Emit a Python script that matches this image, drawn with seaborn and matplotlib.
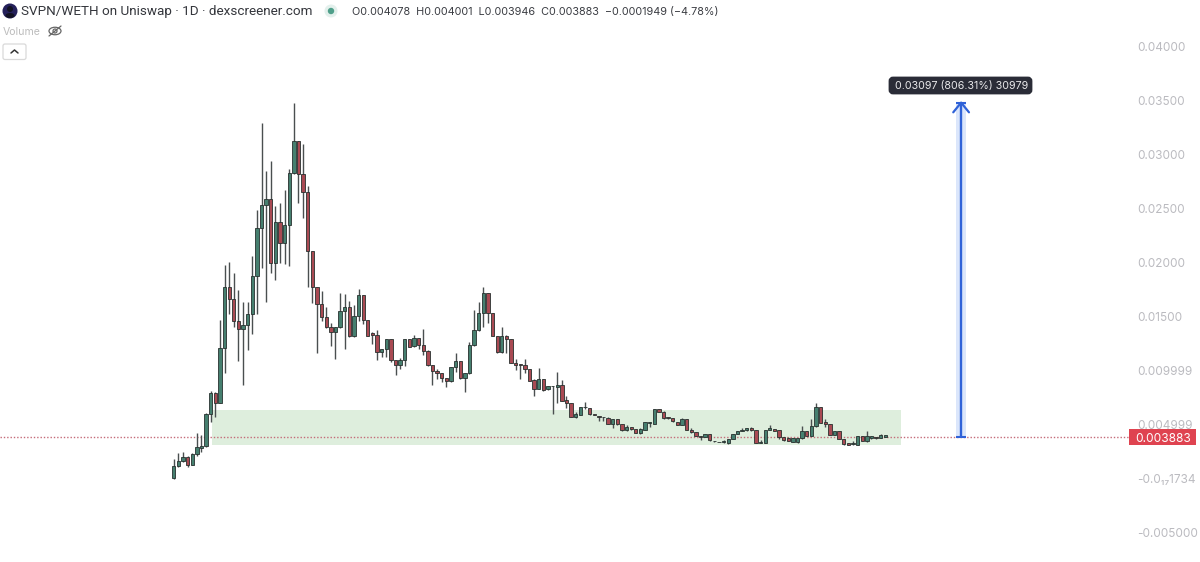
#!/usr/bin/python3
import pandas as pd
import matplotlib
matplotlib.use('Agg')
import matplotlib.pyplot as plt
from matplotlib.patches import Circle, Ellipse, FancyBboxPatch, Rectangle
import seaborn as sns

## daily candles, prices in thousandths of WETH
open_m = [0.06, 1.20, 1.67, 2.07, 1.33, 2.31, 2.90, 3.06, 6.02, 7.93, 7.07, 12.10, 17.81, 16.63, 14.63, 13.86, 14.23, 15.25, 18.82, 23.21,
          25.40, 25.95, 20.03, 23.76, 21.88, 23.52, 28.36, 31.32, 28.21, 26.57, 21.14, 17.74, 16.20, 15.03, 14.10, 13.58, 14.04, 15.55, 15.89, 13.24,
          15.09, 17.03, 14.72, 13.49, 13.30, 11.79, 12.00, 12.93, 11.02, 10.52, 10.99, 12.96, 12.31, 13.08, 12.37, 11.88, 10.55, 10.03, 9.84, 9.38,
          9.04, 10.40, 10.89, 9.35, 9.78, 12.37, 13.79, 15.34, 17.25, 15.34, 13.24, 11.76, 13.24, 12.99, 10.74, 10.62, 10.52, 10.21, 9.17, 8.36,
          9.29, 8.30, 8.64, 8.55, 8.73, 7.28, 7.04, 5.77, 5.96, 6.70, 6.57, 6.02, 5.83, 5.77, 5.65, 5.09, 5.52, 5.06, 4.51, 4.78,
          4.60, 4.23, 4.54, 5.18, 5.09, 6.45, 6.20, 5.71, 5.62, 5.31, 5.03, 5.55, 4.54, 4.32, 3.98, 3.92, 4.14, 3.55, 3.46, 3.39,
          3.30, 3.73, 4.17, 4.47, 4.51, 4.75, 4.54, 3.36, 3.36, 4.57, 4.60, 4.51, 3.89, 3.83, 3.46, 3.39, 3.76, 4.47, 4.01, 4.91,
          6.70, 5.28, 5.06, 4.10, 4.41, 3.70, 3.30, 3.21, 3.18, 4.01, 3.52, 3.76, 3.86, 3.83, 3.89]
high_m = [1.82, 2.38, 2.53, 2.13, 2.38, 4.23, 4.07, 6.08, 8.15, 8.09, 14.72, 19.81, 20.12, 19.04, 17.50, 16.39, 16.39, 20.65, 24.90, 32.93,
          28.51, 29.44, 25.27, 25.58, 26.76, 28.67, 34.78, 31.32, 31.01, 27.13, 21.14, 17.74, 17.37, 15.89, 14.47, 14.04, 17.19, 17.10, 16.51, 16.11,
          17.56, 17.03, 14.72, 13.64, 13.79, 12.00, 12.93, 12.93, 11.02, 11.17, 12.96, 12.96, 13.33, 13.08, 13.86, 11.94, 10.55, 10.21, 9.84, 9.38,
          10.40, 11.70, 10.89, 9.78, 12.71, 15.65, 16.42, 17.81, 17.25, 15.34, 13.24, 14.10, 13.33, 12.99, 11.08, 10.62, 11.08, 10.21, 9.23, 10.25,
          9.29, 8.61, 8.64, 9.88, 9.17, 7.68, 7.04, 6.23, 6.63, 7.13, 6.57, 6.02, 5.83, 5.77, 5.77, 5.52, 5.52, 5.06, 4.97, 4.78,
          4.60, 4.69, 5.31, 5.28, 6.45, 6.51, 6.33, 5.71, 5.62, 5.31, 5.62, 5.55, 4.69, 4.32, 3.98, 4.20, 4.20, 3.55, 3.46, 3.61,
          3.73, 4.17, 4.44, 4.69, 4.75, 4.81, 4.54, 3.61, 4.57, 5.00, 4.60, 4.51, 3.89, 3.89, 3.80, 3.80, 4.91, 4.47, 5.52, 7.01,
          6.70, 5.59, 5.06, 4.47, 4.41, 3.70, 3.30, 3.55, 3.98, 4.01, 4.47, 4.01, 3.86, 4.17, 4.10]
low_m = [0.00, 1.14, 1.60, 1.14, 1.30, 2.13, 2.53, 2.99, 5.31, 5.77, 7.01, 9.84, 15.28, 14.10, 10.96, 8.73, 11.94, 13.42, 15.28, 19.50,
         16.42, 19.10, 18.42, 19.97, 19.90, 19.75, 28.21, 25.58, 24.19, 17.74, 16.32, 11.70, 14.66, 13.98, 12.31, 11.14, 13.98, 12.04, 13.18, 13.12,
         14.66, 14.35, 13.24, 12.50, 11.02, 11.26, 11.26, 10.86, 9.66, 10.15, 10.46, 12.19, 12.19, 12.00, 11.48, 10.46, 8.73, 9.29, 9.01, 8.49,
         8.98, 9.94, 9.29, 8.09, 9.72, 12.31, 13.73, 14.10, 14.47, 13.24, 11.70, 11.70, 11.63, 10.71, 10.09, 9.23, 9.84, 9.07, 7.68, 8.30,
         8.18, 8.24, 6.02, 7.07, 7.19, 6.57, 5.74, 5.65, 5.93, 6.45, 5.89, 5.89, 5.40, 5.37, 5.09, 4.72, 5.03, 4.47, 4.44, 4.54,
         4.23, 4.14, 4.54, 4.78, 5.06, 6.20, 5.59, 5.59, 5.31, 5.00, 5.00, 4.54, 4.29, 3.98, 3.61, 3.89, 3.55, 3.46, 3.39, 3.36,
         3.21, 3.67, 4.17, 4.47, 4.47, 4.47, 3.33, 3.36, 3.33, 4.51, 4.47, 3.67, 3.55, 3.52, 3.43, 3.36, 3.73, 3.98, 3.98, 4.85,
         5.15, 4.85, 4.07, 4.07, 3.67, 3.18, 3.15, 3.18, 3.15, 3.49, 3.46, 3.73, 3.70, 3.80, 3.86]
close_m = [1.20, 1.70, 2.07, 1.33, 2.31, 2.93, 3.02, 6.02, 7.99, 7.07, 12.10, 17.81, 16.63, 14.66, 13.86, 14.23, 15.25, 18.82, 23.21, 25.40,
           25.95, 20.03, 23.76, 21.88, 23.52, 28.36, 31.32, 28.24, 26.57, 21.14, 17.74, 16.20, 15.03, 14.10, 13.58, 14.04, 15.55, 15.89, 13.24, 15.09,
           17.03, 14.72, 13.24, 13.33, 11.79, 12.00, 12.93, 11.02, 10.52, 10.99, 12.96, 12.25, 13.08, 12.37, 11.88, 10.55, 10.03, 9.78, 9.38, 9.04,
           10.40, 10.89, 9.35, 9.78, 12.37, 13.79, 15.34, 17.25, 15.34, 13.24, 11.76, 13.24, 12.99, 10.74, 10.55, 10.55, 10.15, 9.10, 8.36, 9.29,
           8.24, 8.61, 8.58, 8.73, 7.25, 7.01, 5.77, 6.02, 6.63, 6.63, 6.02, 5.89, 5.77, 5.71, 5.12, 5.52, 5.09, 4.51, 4.78, 4.60,
           4.26, 4.63, 5.28, 5.28, 6.45, 6.23, 5.62, 5.65, 5.34, 5.03, 5.55, 4.57, 4.32, 4.01, 3.89, 4.14, 3.58, 3.49, 3.43, 3.52,
           3.73, 4.17, 4.44, 4.54, 4.75, 4.51, 3.36, 3.43, 4.57, 4.69, 4.47, 3.86, 3.58, 3.55, 3.80, 3.80, 4.47, 4.01, 4.91, 6.70,
           5.22, 5.09, 4.10, 4.44, 3.70, 3.21, 3.18, 3.30, 3.98, 3.52, 3.98, 3.95, 3.76, 4.10, 4.07]

## price axis
tick_prices = [0.04, 0.035, 0.03, 0.025, 0.02, 0.015, 0.009999, 0.004999, 0.0, -0.005]
tick_labels = ['0.04000', '0.03500', '0.03000', '0.02500', '0.02000', '0.01500', '0.009999', '0.004999', '-0.0\u2081\u20871734', '-0.005000']

## overlays
last_price = 0.003883
zone_days = [8.3, 157.4]
zone_prices = [0.00315, 0.00639]
measure_day = 170.4
measure_prices = [0.003883, 0.03485]

title_text = 'SVPN/WETH on Uniswap \u00b7 1D \u00b7 dexscreener.com'
ohlc_text = 'O0.004078  H0.004001  L0.003946  C0.003883  \u22120.0001949 (\u22124.78%)'
measure_text = '0.03097 (806.31%) 30979'

UP = '#467f6f'
DOWN = '#a94a53'
EDGE = '#28312f'
WICK = '#4a4f50'
BLUE = '#2f62d8'

sns.set_theme(style='white')
plt.rcParams['font.family'] = ['Inter', 'DejaVu Sans']

df = pd.DataFrame({'day': range(len(open_m)), 'open': open_m, 'high': high_m, 'low': low_m, 'close': close_m})
df[['open', 'high', 'low', 'close']] /= 1000
df['bottom'] = df[['open', 'close']].min(axis=1)
df['body'] = (df['close'] - df['open']).abs()

fig = plt.figure(figsize=(12, 5.62), dpi=100)
ax = fig.add_axes([0, 0, 1, 1])

ax.add_patch(Rectangle((zone_days[0], zone_prices[0]), zone_days[1] - zone_days[0], zone_prices[1] - zone_prices[0],
                       facecolor='#deeedd', edgecolor='none', zorder=0))
ax.axhline(last_price, xmax=1130 / 1200, color='#c46a78', lw=1.0, ls=(0, (1, 1.4)), zorder=1)

ax.vlines(df['day'], df['low'], df['high'], color=WICK, lw=1.0, zorder=2)
for is_up, colour in [(True, UP), (False, DOWN)]:
    part = df[(df['close'] >= df['open']) == is_up]
    sns.barplot(data=part, x='day', y='body', bottom=part['bottom'], native_scale=True, color=colour, saturation=1,
                width=0.72, edgecolor=EDGE, linewidth=0.6, errorbar=None, ax=ax, zorder=3)

## measure arrow
ax.add_patch(Rectangle((measure_day - 1.0, measure_prices[0]), 2.0, measure_prices[1] - measure_prices[0],
                       facecolor='#dbe6fb', edgecolor='none', zorder=1))
ax.vlines(measure_day, measure_prices[0], measure_prices[1], color=BLUE, lw=1.7, zorder=4)
ax.hlines(measure_prices, measure_day - 1.05, measure_day + 1.05, color=BLUE, lw=1.5, zorder=4)
ax.plot([measure_day - 1.7, measure_day, measure_day + 1.7],
        [measure_prices[1] - 0.0009, measure_prices[1], measure_prices[1] - 0.0009], color=BLUE, lw=1.6, zorder=4)

ax.set_xlim(-37.6, 222.1)
ax.set_ylim(-0.00769, 0.04435)
ax.set_axis_off()

## furniture in pixel coordinates
top = fig.add_axes([0, 0, 1, 1], facecolor='none')
top.set_xlim(0, 1200)
top.set_ylim(562, 0)
top.set_axis_off()

for price, label in zip(tick_prices, tick_labels):
    y = ax.transData.transform((0, price))[1]
    top.text(1137, 562 - y + 1.5, label, ha='left', va='center', fontsize=8.5, color='#bbbbc0')

top.add_patch(Rectangle((1129, 429), 67, 16, facecolor='#df4350', edgecolor='none'))
top.text(1163.5, 438.5, '0.003883', ha='center', va='center', fontsize=8.6, color='white')

top.add_patch(FancyBboxPatch((890, 78), 141, 15, boxstyle='round,pad=0,rounding_size=3', mutation_aspect=1,
                             facecolor='#2a2c37', edgecolor='#2a2c37', lw=2))
top.text(961.5, 86.5, measure_text, ha='center', va='center', fontsize=7.7, color='#e8e8ea')

## legend row
top.add_patch(Circle((10, 11), 7.5, facecolor='#24205a', edgecolor='none'))
top.add_patch(Circle((10, 9), 3, facecolor='#111122', edgecolor='none'))
top.add_patch(Ellipse((10, 15.5), 9, 5, facecolor='#111122', edgecolor='none'))
top.text(21, 12, title_text, ha='left', va='center', fontsize=9.7, color='#34363c', family=['Roboto', 'DejaVu Sans'])
top.add_patch(Circle((331, 11), 6.5, facecolor='#e3f0ec', edgecolor='none'))
top.add_patch(Circle((331, 11), 3.2, facecolor='#4f9f8a', edgecolor='none'))
top.text(352, 12, ohlc_text, ha='left', va='center', fontsize=7.8, color='#3a3c42')

top.text(3, 32, 'Volume', ha='left', va='center', fontsize=7.6, color='#bcbcbc')
top.add_patch(Ellipse((55, 31), 12, 7.5, facecolor='none', edgecolor='#666666', lw=0.9))
top.add_patch(Circle((55, 31), 2, facecolor='none', edgecolor='#666666', lw=0.9))
top.plot([49, 61], [36, 26], color='#666666', lw=0.9)

top.add_patch(FancyBboxPatch((3, 44), 23, 15.5, boxstyle='round,pad=0,rounding_size=2', facecolor='white',
                             edgecolor='#d9d9d9', lw=0.9))
top.plot([11, 14.5, 18], [53, 50, 53], color='#333333', lw=1.1)

fig.savefig('out.png', dpi=100)
